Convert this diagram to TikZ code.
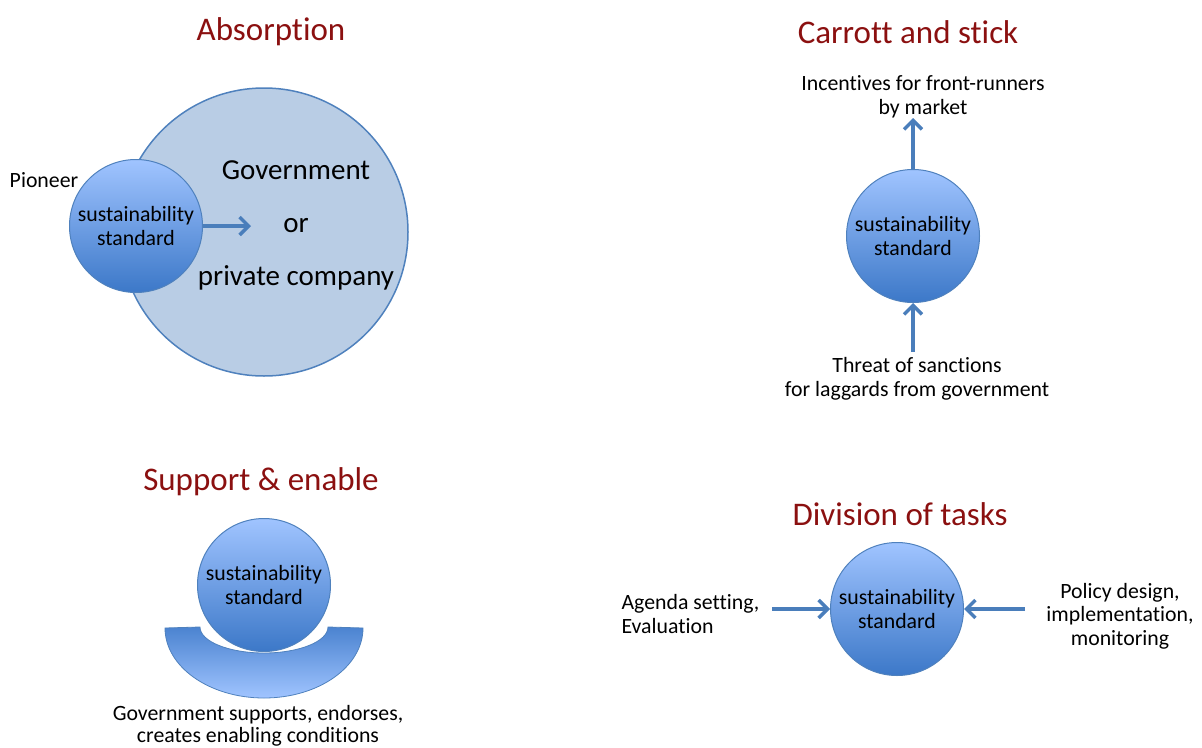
\documentclass[tikz,border=0pt]{standalone}
\usepackage{fontspec}
\setmainfont[Ligatures=NoCommon]{Carlito}
\usetikzlibrary{arrows.meta,shapes}
\definecolor{titleRed}{RGB}{139,16,16}
\definecolor{lineBlue}{RGB}{74,126,187}
\definecolor{edgeBlue}{RGB}{79,129,189}
\definecolor{paleBlue}{RGB}{185,205,229}
\definecolor{topBlue}{RGB}{160,196,255}
\definecolor{botBlue}{RGB}{60,120,200}

\begin{document}
\begin{tikzpicture}
  [x=1pt,y=-1pt,
   titleN/.style={text=titleRed,font=\fontsize{33}{38}\selectfont},
   lblN/.style={align=center,font=\fontsize{21.8}{23.5}\selectfont},
   stdN/.style={circle,draw=edgeBlue,line width=1pt,minimum size=133pt,inner sep=0pt,
     top color=topBlue,bottom color=botBlue,lblN},
   arrL/.style={draw=lineBlue,line width=3.5pt,-{Straight Barb[length=9pt,width=18pt]}},
  ]
 \useasboundingbox (0,0) rectangle (1202,747);

 \node[titleN] (absTitle) at (271,32) {Absorption};
 \node[circle,draw=edgeBlue,line width=1.5pt,fill=paleBlue,minimum size=288pt] (absGov) at (264,232) {};
 \node[align=center,font=\fontsize{29}{53}\selectfont] (absTxt) at (296,225) {Government\\or\\private company};
 \node[stdN] (absStd) at (136,226) {sustainability\\standard};
 \node[lblN] (absPio) at (44,180) {Pioneer};
 \coordinate (absEnd) at (251,226);
 \draw[arrL] (absStd) -- (absEnd);

 \node[titleN] (carTitle) at (908,32) {Carrott and stick};
 \node[stdN] (carStd) at (913,236) {sustainability\\standard};
 \node[lblN] (carUpTxt) at (923,97) {Incentives for front-runners\\by market};
 \node[lblN] (carLowTxt) at (917,379) {Threat of sanctions\\for laggards from government};
 \coordinate (carUp) at (913,118);
 \coordinate (carLow) at (913,352);
 \draw[arrL] (carStd) -- (carUp);
 \draw[arrL] (carLow) -- (carStd);

 \node[titleN] (supTitle) at (261,482) {Support \& enable};
 \draw[draw=edgeBlue,line width=0.8pt,top color=botBlue!85!topBlue,bottom color=topBlue]
   (165,628) arc[start angle=180,end angle=360,x radius=99pt,y radius=70pt]
   -- (328,627) arc[start angle=0,end angle=-180,x radius=64pt,y radius=26pt] -- cycle;
 \node[stdN] (supStd) at (264,585) {sustainability\\standard};
 \node[align=center,font=\fontsize{21.8}{22}\selectfont] (supTxt) at (258,726) {Government supports, endorses,\\creates enabling conditions};

 \node[titleN] (divTitle) at (900,514) {Division of tasks};
 \node[stdN] (divStd) at (897,609) {sustainability\\standard};
 \node[lblN,align=left,anchor=west] (divLTxt) at (618,614) {Agenda setting,\\Evaluation};
 \node[lblN] (divRTxt) at (1120,616) {Policy design,\\implementation,\\monitoring};
 \coordinate (divL) at (772,609);
 \coordinate (divR) at (1025,609);
 \draw[arrL] (divL) -- (divStd);
 \draw[arrL] (divR) -- (divStd);
\end{tikzpicture}
\end{document}
